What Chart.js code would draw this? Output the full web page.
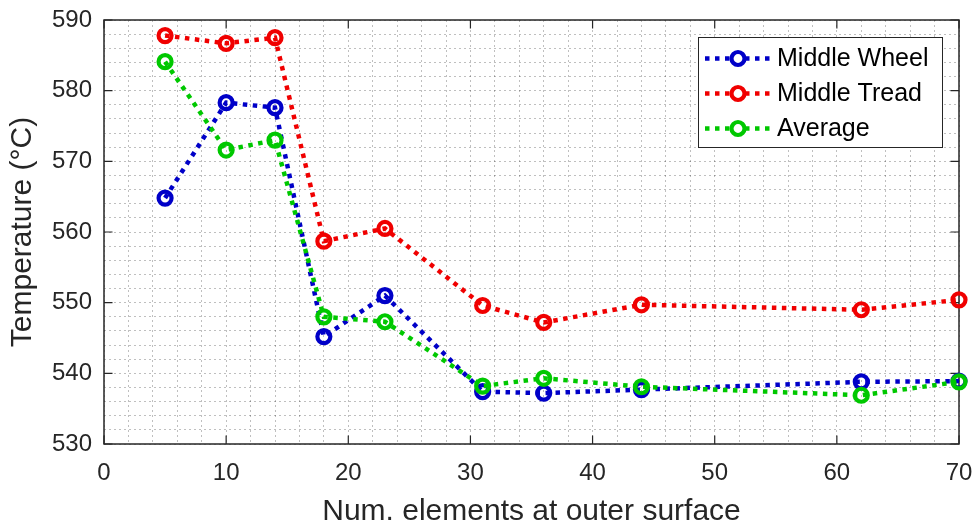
<!DOCTYPE html>
<html><head><meta charset="utf-8">
<script src="https://cdn.jsdelivr.net/npm/chart.js@4"></script>
<style>html,body{margin:0;padding:0;background:#fff}#wrap{width:974px;height:525px;position:relative}</style>
</head><body><div id="wrap"><canvas id="c" width="974" height="525"></canvas></div>
<script>
const xValues = [5, 10, 14, 18, 23, 31, 36, 44, 62, 70];
const middleWheel = [564.8, 578.3, 577.6, 545.2, 551.0, 537.4, 537.2, 537.7, 538.8, 538.9];
const middleTread = [587.8, 586.7, 587.5, 558.7, 560.5, 549.6, 547.2, 549.7, 549.0, 550.4];
const average = [584.1, 571.6, 573.0, 548.0, 547.3, 538.2, 539.3, 538.1, 536.9, 538.8];
const xTickLabels = [0, 10, 20, 30, 40, 50, 60, 70];
const yTickLabels = [530, 540, 550, 560, 570, 580, 590];
const seriesNames = ['Middle Wheel', 'Middle Tread', 'Average'];
const xTitle = 'Num. elements at outer surface';
const yTitle = 'Temperature (°C)';

const FONT = "'Liberation Sans', Arial, Helvetica, sans-serif";
const AXIS_COLOR = '#262626';

function pts(vals) { return xValues.map((x, i) => ({ x: x, y: vals[i] })); }
function ds(label, vals, color, order) {
  return {
    label: label, data: pts(vals), order: order,
    borderColor: color, backgroundColor: 'rgba(0,0,0,0)',
    borderWidth: 4.5, borderDash: [4.5, 5.5], borderCapStyle: 'butt',
    pointRadius: 6.5, pointBorderWidth: 4.2, pointBorderColor: color,
    pointBackgroundColor: 'rgba(255,255,255,0)', pointStyle: 'circle',
    tension: 0, clip: false, fill: false
  };
}

const boxPlugin = {
  id: 'matlabBox',
  beforeDatasetsDraw(chart) {
    const { ctx, chartArea: a, scales: { x, y } } = chart;
    ctx.save();
    ctx.strokeStyle = AXIS_COLOR;
    ctx.lineWidth = 1.5;
    ctx.setLineDash([]);
    ctx.strokeRect(a.left, a.top, a.right - a.left, a.bottom - a.top);
    const L = 8.5;
    ctx.lineWidth = 1.2;
    ctx.beginPath();
    xTickLabels.forEach(v => {
      const px = x.getPixelForValue(v);
      ctx.moveTo(px, a.bottom); ctx.lineTo(px, a.bottom - L);
      ctx.moveTo(px, a.top); ctx.lineTo(px, a.top + L);
    });
    yTickLabels.forEach(v => {
      const py = y.getPixelForValue(v);
      ctx.moveTo(a.left, py); ctx.lineTo(a.left + L, py);
      ctx.moveTo(a.right, py); ctx.lineTo(a.right - L, py);
    });
    ctx.stroke();
    ctx.restore();
  }
};

const legendPlugin = {
  id: 'matlabLegend',
  afterDraw(chart) {
    const { ctx, chartArea: a } = chart;
    const bw = 244, bh = 110;
    const bx = a.right - 17 - bw, by = a.top + 17;
    ctx.save();
    ctx.fillStyle = '#ffffff';
    ctx.fillRect(bx, by, bw, bh);
    ctx.strokeStyle = AXIS_COLOR;
    ctx.lineWidth = 1;
    ctx.strokeRect(bx + 0.5, by + 0.5, bw, bh);
    [0, 1, 2].forEach((i) => {
      const d = chart.data.datasets[i];
      const ry = by + 21.5 + i * 35;
      ctx.strokeStyle = d.borderColor;
      ctx.lineWidth = d.borderWidth;
      ctx.setLineDash(d.borderDash);
      ctx.lineCap = 'butt';
      ctx.beginPath();
      ctx.moveTo(bx + 7, ry); ctx.lineTo(bx + 74, ry);
      ctx.stroke();
      ctx.setLineDash([]);
      ctx.fillStyle = '#ffffff';
      ctx.lineWidth = d.pointBorderWidth;
      ctx.beginPath();
      ctx.arc(bx + 40, ry, d.pointRadius, 0, Math.PI * 2);
      ctx.fill();
      ctx.stroke();
      ctx.fillStyle = '#000000';
      ctx.font = '25px ' + FONT;
      ctx.textAlign = 'left';
      ctx.textBaseline = 'middle';
      ctx.fillText(d.label, bx + 79, ry + 1);
    });
    ctx.restore();
  }
};

new Chart(document.getElementById('c'), {
  type: 'line',
  data: {
    datasets: [
      ds(seriesNames[0], middleWheel, '#0000c8', 2),
      ds(seriesNames[1], middleTread, '#f00000', 1),
      ds(seriesNames[2], average, '#00c800', 0)
    ]
  },
  plugins: [boxPlugin, legendPlugin],
  options: {
    responsive: false, animation: false, events: [],
    layout: { padding: { top: 20, right: 15, bottom: 0, left: 0 } },
    plugins: { legend: { display: false }, tooltip: { enabled: false } },
    scales: {
      x: {
        type: 'linear', min: 0, max: 70, position: 'bottom',
        afterFit(s) { s.height = 81; s.paddingLeft = 0; s.paddingRight = 0; },
        ticks: {
          stepSize: 2, autoSkip: false, maxRotation: 0, minRotation: 0, padding: 15,
          color: AXIS_COLOR, font: { family: FONT, size: 24 },
          callback: v => xTickLabels.includes(v) ? String(v) : ''
        },
        grid: { color: 'rgba(0,0,0,0.25)', lineWidth: 1, drawTicks: false },
        border: { display: false, dash: [2, 3] },
        title: { display: true, text: xTitle, color: AXIS_COLOR,
          font: { family: FONT, size: 30, lineHeight: 0.9 }, padding: { top: 0, bottom: 0 } }
      },
      y: {
        type: 'linear', min: 530, max: 590, position: 'left',
        afterFit(s) { s.width = 104; s.paddingTop = 0; s.paddingBottom = 0; },
        ticks: {
          stepSize: 2, autoSkip: false, padding: 12,
          color: AXIS_COLOR, font: { family: FONT, size: 24 },
          callback: v => yTickLabels.includes(v) ? String(v) : ''
        },
        grid: { color: 'rgba(0,0,0,0.25)', lineWidth: 1, drawTicks: false },
        border: { display: false, dash: [2, 3] },
        title: { display: true, text: yTitle, color: AXIS_COLOR,
          font: { family: FONT, size: 30, lineHeight: 0.9 }, padding: { top: 9, bottom: 0 } }
      }
    }
  }
});
</script></body></html>
